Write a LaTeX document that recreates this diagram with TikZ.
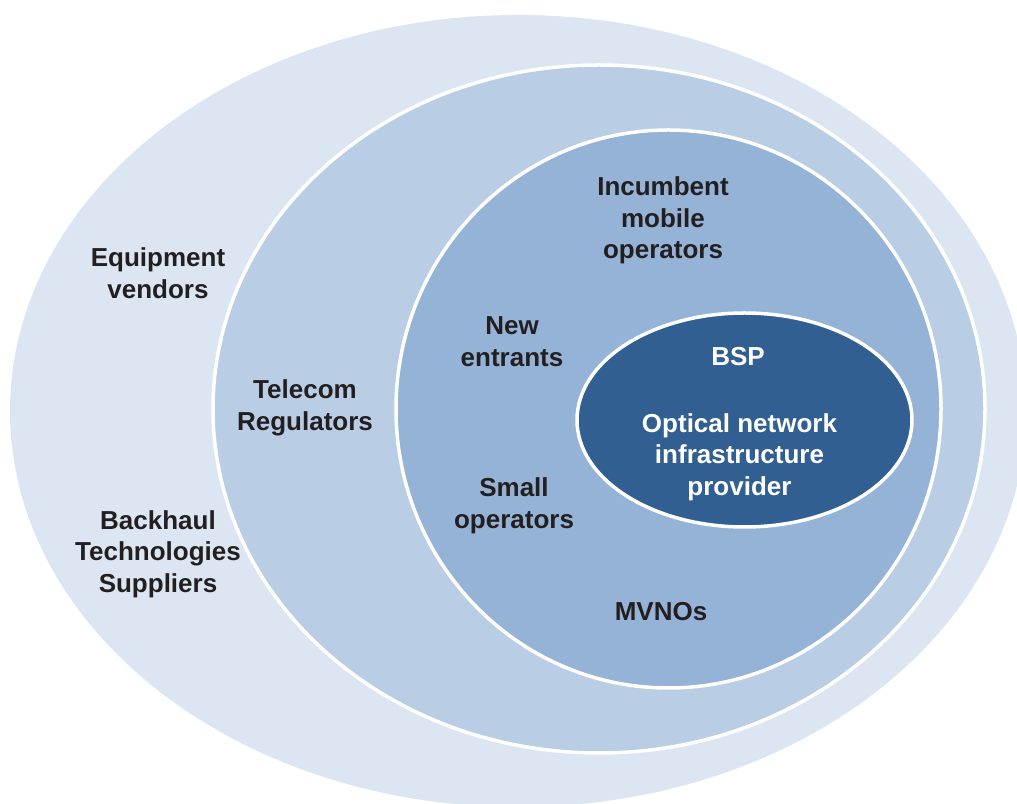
\documentclass[tikz,border=0pt]{standalone}
\usepackage{fontspec}
\setmainfont{Liberation Sans}

\definecolor{ringA}{RGB}{220,230,242}
\definecolor{ringB}{RGB}{185,205,229}
\definecolor{ringC}{RGB}{149,179,215}
\definecolor{core}{RGB}{49,95,145}
\definecolor{ink}{RGB}{35,31,32}

\tikzset{
  lbl/.style={align=center, font=\bfseries\fontsize{26}{31.5}\selectfont, text=ink, inner sep=0pt},
  ring/.style={draw=white, line width=3.5pt}
}

\begin{document}
\begin{tikzpicture}[x=1pt,y=1pt]
	  \useasboundingbox (0,0) rectangle (1017,803);
	  \clip (0,0) rectangle (1017,803);

	  % rings, outside in
	  \fill[ringA] (518,392) ellipse [x radius=508, y radius=396];
	  \filldraw[ring, fill=ringB] (599,394) ellipse [x radius=386, y radius=344];
	  \filldraw[ring, fill=ringC] (668.5,394) ellipse [x radius=272.5, y radius=279];
	  \filldraw[ring, fill=core] (744.5,383) ellipse [x radius=167.5, y radius=107];

	  \node[lbl] (vendors) at (158,530) {Equipment\\vendors};
	  \node[lbl] (backhaul) at (158,249) {Backhaul\\Technologies\\Suppliers};
	  \node[lbl] (regulators) at (305,395) {Telecom\\Regulators};
	  \node[lbl] (incumbent) at (663,582.5) {Incumbent\\mobile\\operators};
	  \node[lbl] (entrants) at (512,461.5) {New\\entrants};
	  \node[lbl] (small) at (514,297) {Small\\operators};
	  \node[lbl] (mvnos) at (661,191) {MVNOs};
	  \node[lbl, text=white] (bsp) at (738,446) {BSP};
	  \node[lbl, text=white] (onip) at (739.5,346) {Optical network\\infrastructure\\provider};
	\end{tikzpicture}
\end{document}
